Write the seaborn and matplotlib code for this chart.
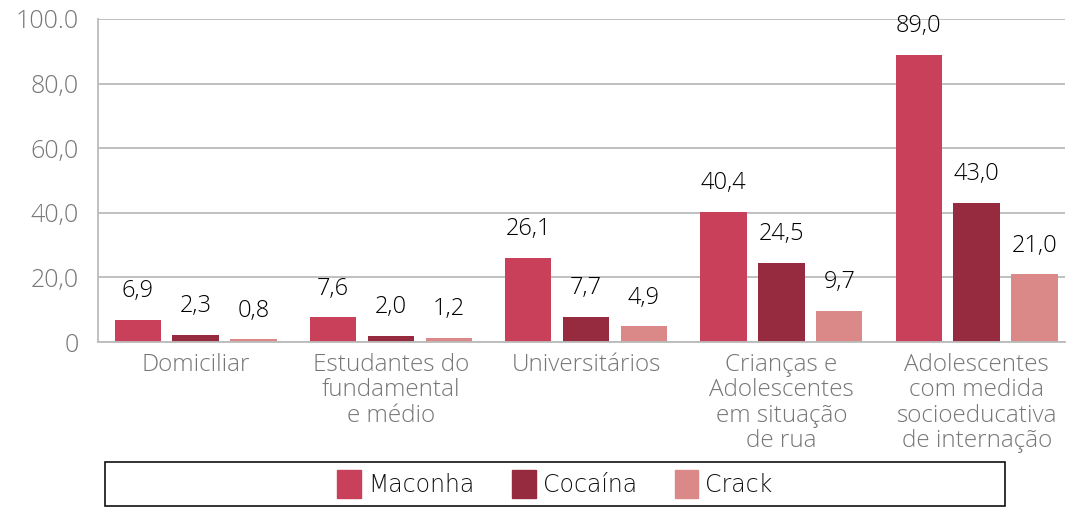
import matplotlib.pyplot as plt
import matplotlib.patches as mpatches
import seaborn as sns
import pandas as pd

sns.set_style("white")
plt.rcParams['font.family'] = ['Open Sans', 'DejaVu Sans']
plt.rcParams['font.weight'] = 'light'

categorias = ["Domiciliar",
              "Estudantes do\nfundamental\ne médio",
              "Universitários",
              "Crianças e\nAdolescentes\nem situação\nde rua",
              "Adolescentes\ncom medida\nsocioeducativa\nde internação"]
maconha = [6.9, 7.6, 26.1, 40.4, 89.0]
cocaina = [2.3, 2.0, 7.7, 24.5, 43.0]
crack = [0.8, 1.2, 4.9, 9.7, 21.0]
substancias = ["Maconha", "Cocaína", "Crack"]
cores = ["#C8405A", "#962B40", "#DB8888"]
yticks = [0, 20, 40, 60, 80, 100]
ytick_labels = ["0", "20,0", "40,0", "60,0", "80,0", "100.0"]

df = pd.DataFrame({
    "cat": categorias * 3,
    "sub": ["Maconha"] * 5 + ["Cocaína"] * 5 + ["Crack"] * 5,
    "val": maconha + cocaina + crack,
})

fig = plt.figure(figsize=(10.7, 5.07), dpi=100)
ax = fig.add_axes([98 / 1070, 1 - 342 / 507, (1065 - 98) / 1070, (342 - 19) / 507])

sns.barplot(data=df, x="cat", y="val", hue="sub", hue_order=substancias,
            palette=cores, width=0.89, gap=0.2, saturation=1, linewidth=0,
            legend=False, ax=ax)

# value labels above each bar, decimal comma
for cont in ax.containers:
    ax.bar_label(cont, labels=[f"{v:.1f}".replace(".", ",") for v in cont.datavalues],
                 padding=12, fontsize=17, color="#000000")

ax.set_ylim(0, 100)
ax.set_xlim(-0.5, (1065 - 98) / 195.25 - 0.5)
ax.set_yticks(yticks)
ax.set_yticklabels(ytick_labels, fontsize=18, color="#777777")
ax.yaxis.grid(True, color="#BBBBBB", linewidth=1.3)
ax.set_axisbelow(True)
ax.tick_params(axis="y", length=10, color="#BBBBBB", width=1.3, pad=4)

ax.set_xticks(range(5))
ax.set_xticklabels(categorias, fontsize=17.5, color="#777777", linespacing=1.07)
ax.set_xticks([i - 0.5 for i in range(5)], minor=True)
ax.tick_params(axis="x", which="major", length=0, pad=8)
ax.tick_params(axis="x", which="minor", length=12, color="#BBBBBB", width=1.3)
ax.set_xlabel("")
ax.set_ylabel("")

for s in ["top", "right"]:
    ax.spines[s].set_visible(False)
for s in ["left", "bottom"]:
    ax.spines[s].set_color("#BBBBBB")
    ax.spines[s].set_linewidth(1.3)

# legend box spanning most of the width
fig.patches.append(mpatches.Rectangle((105 / 1070, 1 - 506 / 507), 900 / 1070, 44 / 507,
                                      transform=fig.transFigure, fill=False,
                                      edgecolor="#111111", linewidth=1.2))
handles = [mpatches.Patch(color=c, label=s) for c, s in zip(cores, substancias)]
leg = fig.legend(handles=handles, loc="center", bbox_to_anchor=(555 / 1070, 1 - 484 / 507),
                 ncol=3, frameon=False, handlelength=1.0, handleheight=1.4,
                 handletextpad=0.3, columnspacing=1.6,
                 prop={"family": ["Liberation Sans Narrow", "DejaVu Sans"], "size": 17})
for t in leg.get_texts():
    t.set_color("#111111")

fig.savefig("out.png", dpi=100)
